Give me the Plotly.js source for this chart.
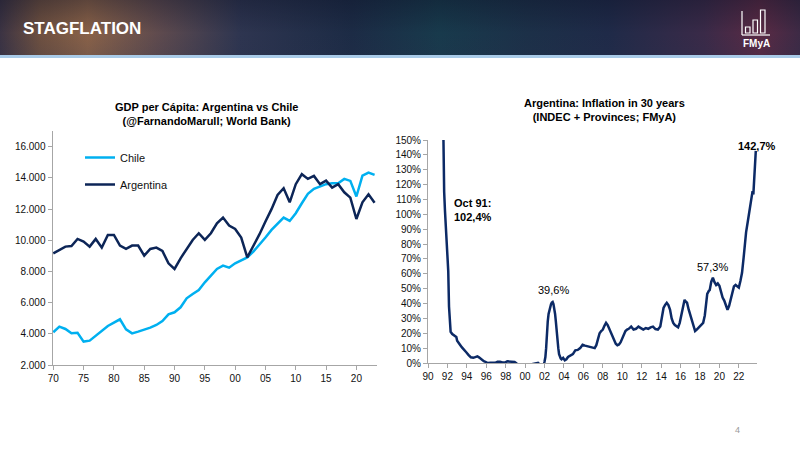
<!DOCTYPE html>
<html><head><meta charset="utf-8">
<script src="https://cdn.plot.ly/plotly-3.0.1.min.js"></script>
<style>
html,body{margin:0;padding:0;background:#fff;}
#wrap{position:relative;width:800px;height:450px;overflow:hidden;background:#fff;}
#banner{position:absolute;left:0;top:0;width:800px;height:55px;
background:linear-gradient(90deg,#3b3343 0%,#6e5040 5%,#8a6248 11%,#5e4a4e 20%,#2e3550 30%,#1c2b45 44%,#183a4c 55%,#1c3048 66%,#1f2a48 76%,#3a2a48 88%,#5a2a44 95%,#3d2a45 100%);}
#shade{position:absolute;left:0;top:0;width:800px;height:55px;background:linear-gradient(180deg,rgba(10,15,35,0.35) 0%,rgba(10,15,35,0) 60%,rgba(40,50,80,0.15) 100%);}
#strip{position:absolute;left:0;top:55px;width:800px;height:3px;background:#a9cbe8;}
#chart{position:absolute;left:0;top:0;width:800px;height:450px;}
</style></head>
<body><div id="wrap"><div id="banner"></div><div id="shade"></div><div id="strip"></div><div id="chart"></div></div>
<script>
// ---- GDP per capita (left chart) ----
const gdpYears = [1970,1971,1972,1973,1974,1975,1976,1977,1978,1979,1980,1981,1982,1983,1984,1985,1986,1987,1988,1989,1990,1991,1992,1993,1994,1995,1996,1997,1998,1999,2000,2001,2002,2003,2004,2005,2006,2007,2008,2009,2010,2011,2012,2013,2014,2015,2016,2017,2018,2019,2020,2021,2022,2023];
const chileGdp = [4100,4460,4310,4030,4070,3500,3560,3880,4180,4500,4715,4930,4290,4030,4140,4245,4395,4565,4820,5250,5380,5700,6275,6550,6810,7300,7730,8160,8370,8240,8520,8690,8900,9270,9700,10170,10660,11085,11450,11235,11730,12370,12970,13290,13440,13590,13650,13650,13930,13800,12800,14140,14330,14185];
const argGdp = [9160,9375,9590,9630,10080,9910,9590,10080,9525,10337,10337,9653,9440,9653,9653,9011,9440,9525,9311,8520,8156,8841,9440,10016,10444,10016,10444,11085,11450,10935,10722,10170,8900,9590,10370,11200,11990,12900,13330,12430,13590,14230,13930,14120,13590,13820,13370,13590,13070,12730,11360,12430,12945,12400];
const gdpTickVals = [1970,1975,1980,1985,1990,1995,2000,2005,2010,2015,2020];
const gdpTickText = ['70','75','80','85','90','95','00','05','10','15','20'];
const gdpYTicks = [2000,4000,6000,8000,10000,12000,14000,16000];

// ---- Argentina inflation (right chart), annual % ----
const infDates = ['1991-07','1991-08','1991-09','1991-10','1991-11','1991-12','1992-01','1992-02','1992-03','1992-04','1992-05','1992-07','1992-09','1992-11','1992-12','1993-01','1993-03','1993-05','1993-07','1993-09','1993-12','1994-03','1994-06','1994-09','1994-12','1995-02','1995-04','1995-07','1995-10','1995-12','1996-03','1996-06','1996-09','1996-12','1997-03','1997-06','1997-09','1997-12','1998-03','1998-06','1998-09','1998-12','1999-03','1999-06','1999-09','1999-12','2000-06','2000-12','2001-03','2001-05','2001-07','2001-12','2002-01','2002-02','2002-03','2002-04','2002-05','2002-06','2002-07','2002-08','2002-09','2002-10','2002-11','2002-12','2003-01','2003-02','2003-03','2003-04','2003-05','2003-06','2003-07','2003-08','2003-09','2003-10','2003-12','2004-02','2004-04','2004-06','2004-08','2004-10','2004-12','2005-03','2005-06','2005-09','2005-12','2006-03','2006-06','2006-09','2006-12','2007-03','2007-05','2007-07','2007-09','2007-11','2008-01','2008-03','2008-05','2008-07','2008-09','2008-11','2009-01','2009-03','2009-05','2009-07','2009-09','2009-11','2010-01','2010-03','2010-05','2010-07','2010-09','2010-12','2011-03','2011-06','2011-09','2011-12','2012-03','2012-06','2012-09','2012-12','2013-03','2013-06','2013-09','2013-12','2014-02','2014-04','2014-06','2014-08','2014-10','2014-12','2015-02','2015-04','2015-06','2015-08','2015-10','2015-12','2016-02','2016-04','2016-06','2016-07','2016-09','2016-11','2017-01','2017-03','2017-05','2017-07','2017-09','2017-11','2018-01','2018-03','2018-05','2018-07','2018-08','2018-09','2018-10','2018-12','2019-01','2019-03','2019-05','2019-07','2019-09','2019-11','2020-01','2020-03','2020-05','2020-07','2020-09','2020-11','2021-01','2021-03','2021-05','2021-07','2021-09','2021-11','2022-01','2022-03','2022-05','2022-07','2022-08','2022-10','2022-12','2023-02','2023-04','2023-06','2023-07','2023-08','2023-09','2023-10'];
const infValues = [196,144,115,102.4,92,84,76,62,38,24,21,19.5,18.8,18,17.5,15,13,12,10.5,9,7.4,5.5,3.8,3.5,3.9,4.5,3.8,2.2,1.2,0.8,0,0.1,0.2,0.1,0.8,0.9,0.4,0.3,1.1,1,0.6,0.7,-0.5,-1.5,-1.8,-1.8,-1.2,-0.7,-0.5,0.1,-1,-1.5,1,4,10,21.5,28,33,36,38,39.5,40.6,41,39.6,37,33,28,20,14,10,6,4,3,2.5,3.5,1.8,2.5,4,4.8,5.2,6,8.5,8.8,10,12.3,11.7,11.2,10.5,10.2,10,12,16,20,21.5,22.5,25,27,25.5,23,21,19,16,13,12,12.5,14,16.5,20,21.5,22.5,23,24.5,22.5,23,24.5,23.5,22.5,23.5,23,24,24.5,22.8,22.5,24.5,30,37,39,40.5,39,36,30,27,25.5,24.8,24,27,33,39,42.5,41.5,40.5,36,32,29,25,21.5,22.5,23.5,24.5,25.5,27,32,38,44,46.5,48.5,49,54.7,57.3,54.4,52.5,53.5,52,48,44,42,38,35.8,38.5,43,48,51.5,52.5,51.5,50.7,55.1,60.7,71,78.5,88,94.8,102.5,108.8,115.6,113.4,124.4,138.3,142.7];
const infYTicks = [0,10,20,30,40,50,60,70,80,90,100,110,120,130,140,150];
const infYTickText = ['0%','10%','20%','30%','40%','50%','60%','70%','80%','90%','100%','110%','120%','130%','140%','150%'];

const FONT = 'Liberation Sans, Arial, sans-serif';
const AX = '#a6a6a6';
const px = x => x/800, py = y => 1 - y/450;

const traces = [
  {x:gdpYears, y:chileGdp, type:'scatter', mode:'lines', name:'Chile', xaxis:'x', yaxis:'y',
   line:{color:'#00b0f0', width:2.5}, legend:'legend'},
  {x:gdpYears, y:argGdp, type:'scatter', mode:'lines', name:'Argentina', xaxis:'x', yaxis:'y',
   line:{color:'#0c2557', width:2.5}, legend:'legend2'},
  {x:infDates, y:infValues, type:'scatter', mode:'lines', name:'Inflation', xaxis:'x2', yaxis:'y2',
   line:{color:'#0c2a66', width:2.5}, showlegend:false}
];

const axBase = {showgrid:false, zeroline:false, showline:true, linecolor:AX, linewidth:1,
  ticks:'outside', ticklen:4, tickcolor:AX, tickfont:{size:10, color:'#111', family:FONT}, fixedrange:true};

const layout = {
  width:800, height:450, margin:{l:0,r:0,t:0,b:0},
  paper_bgcolor:'rgba(0,0,0,0)', plot_bgcolor:'rgba(0,0,0,0)',
  separators:',.', hovermode:false,
  font:{family:FONT, size:10, color:'#000'},
  xaxis:Object.assign({}, axBase, {domain:[px(52.5), px(377)], anchor:'y', range:[1969.87, 2023.4],
    tickmode:'array', tickvals:gdpTickVals, ticktext:gdpTickText}),
  yaxis:Object.assign({}, axBase, {domain:[py(365), py(131)], anchor:'x', range:[2000,17000],
    tickmode:'array', tickvals:gdpYTicks, tickformat:',d'}),
  xaxis2:Object.assign({}, axBase, {domain:[px(428), px(757)], anchor:'y2', type:'date',
    range:['1990-01-01','2023-11-15'], tick0:'1990-01-01', dtick:'M24', tickformat:'%y'}),
  yaxis2:Object.assign({}, axBase, {domain:[py(363), py(140)], anchor:'x2', range:[0,150],
    tickmode:'array', tickvals:infYTicks, ticktext:infYTickText}),
  showlegend:true,
  legend:{x:px(80), y:py(143), xanchor:'left', yanchor:'top', bgcolor:'rgba(0,0,0,0)',
    font:{size:11, family:FONT, color:'#111'}, itemwidth:30},
  legend2:{x:px(80), y:py(170), xanchor:'left', yanchor:'top', bgcolor:'rgba(0,0,0,0)',
    font:{size:11, family:FONT, color:'#111'}, itemwidth:30},
  annotations:[
    {xref:'paper', yref:'paper', x:px(21), y:py(29), xanchor:'left', yanchor:'middle', showarrow:false,
     text:'<b>STAGFLATION</b>', font:{family:FONT, size:17, color:'#ffffff'}},
    {xref:'paper', yref:'paper', x:px(756), y:py(44), xanchor:'center', yanchor:'middle', showarrow:false,
     text:'<b>FMyA</b>', font:{family:FONT, size:10, color:'#ffffff'}},
    {xref:'paper', yref:'paper', x:px(206), y:py(114), xanchor:'center', yanchor:'middle', showarrow:false,
     text:'<b>GDP per Cápita: Argentina vs Chile<br>(@FarnandoMarull; World Bank)</b>', font:{family:FONT, size:11, color:'#000'}},
    {xref:'paper', yref:'paper', x:px(604), y:py(110), xanchor:'center', yanchor:'middle', showarrow:false,
     text:'<b>Argentina: Inflation in 30 years<br>(INDEC + Provinces; FMyA)</b>', font:{family:FONT, size:11, color:'#000'}},
    {xref:'x2', yref:'y2', x:'1992-07-01', y:103, xanchor:'left', yanchor:'middle', showarrow:false, align:'left',
     text:'<b>Oct 91:<br>102,4%</b>', font:{family:FONT, size:11, color:'#000'}},
    {xref:'x2', yref:'y2', x:'2002-11-15', y:49, xanchor:'center', yanchor:'middle', showarrow:false,
     text:'39,6%', font:{family:FONT, size:11, color:'#000'}},
    {xref:'x2', yref:'y2', x:'2019-05-01', y:64.5, xanchor:'center', yanchor:'middle', showarrow:false,
     text:'57,3%', font:{family:FONT, size:11, color:'#000'}},
    {xref:'x2', yref:'y2', x:'2023-11-10', y:146, xanchor:'center', yanchor:'middle', showarrow:false,
     text:'<b>142,7%</b>', font:{family:FONT, size:11, color:'#000'}},
    {xref:'paper', yref:'paper', x:px(737), y:py(430), xanchor:'center', yanchor:'middle', showarrow:false,
     text:'4', font:{family:FONT, size:9, color:'#9a9a9a'}}
  ],
  shapes:[
    {type:'line', xref:'paper', yref:'paper', x0:px(742), y0:py(11), x1:px(742), y1:py(35), line:{color:'#fff', width:1.2}},
    {type:'line', xref:'paper', yref:'paper', x0:px(742), y0:py(35), x1:px(770), y1:py(35), line:{color:'#fff', width:1.2}},
    {type:'rect', xref:'paper', yref:'paper', x0:px(745.5), y0:py(33), x1:px(750), y1:py(27), line:{color:'#fff', width:1.2}},
    {type:'rect', xref:'paper', yref:'paper', x0:px(753), y0:py(33), x1:px(757.5), y1:py(20), line:{color:'#fff', width:1.2}},
    {type:'rect', xref:'paper', yref:'paper', x0:px(760.5), y0:py(33), x1:px(765), y1:py(10), line:{color:'#fff', width:1.2}}
  ]
};

Plotly.newPlot('chart', traces, layout, {displayModeBar:false, staticPlot:true});
</script>
</body></html>
